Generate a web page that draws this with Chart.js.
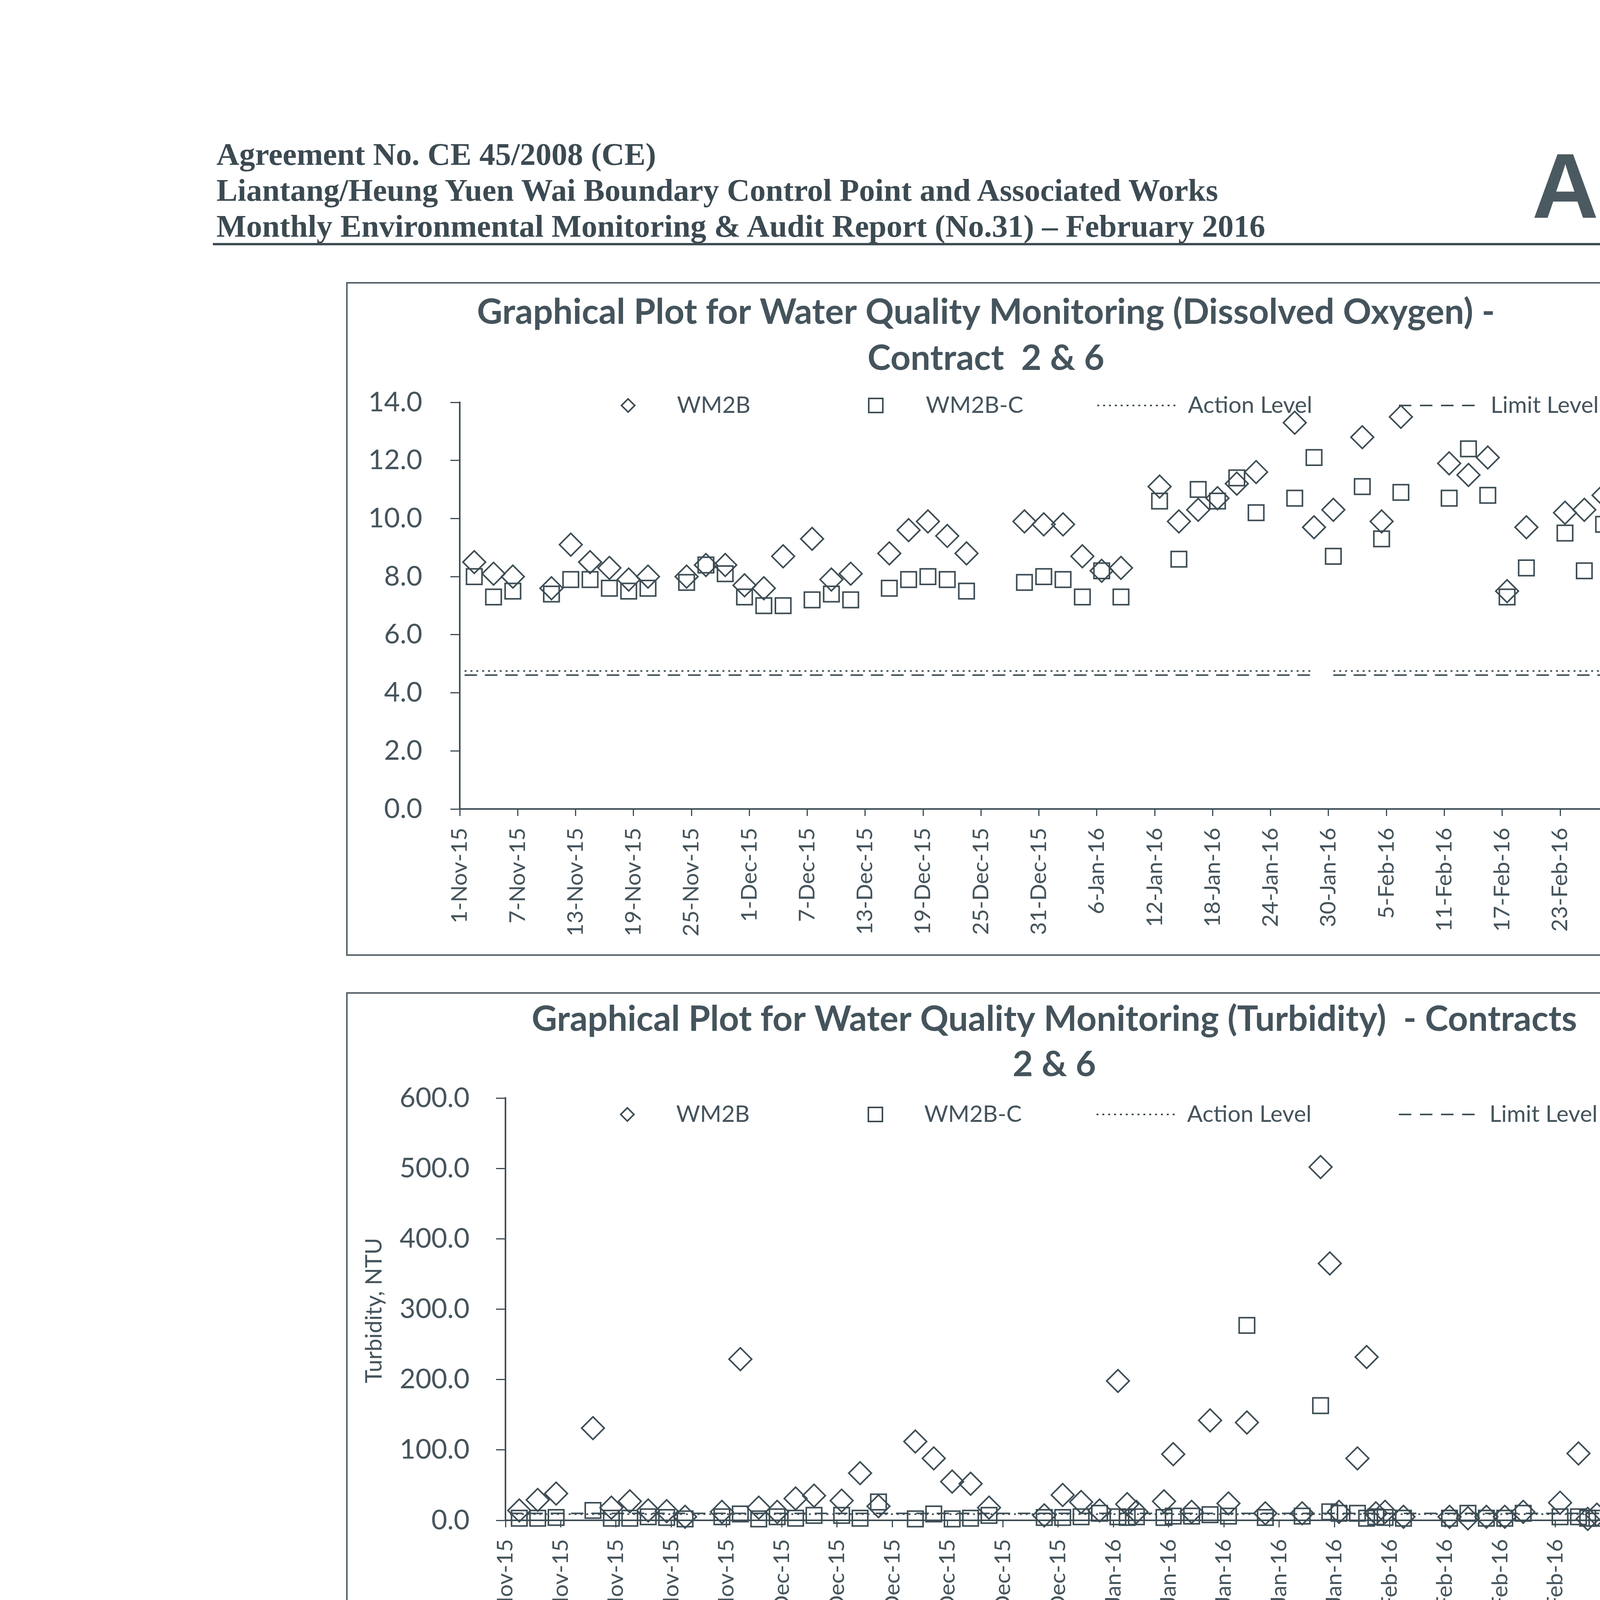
<!DOCTYPE html>
<html>
<head>
<meta charset="utf-8">
<script src="https://cdn.jsdelivr.net/npm/chart.js@4.4.1/dist/chart.umd.min.js"></script>
<style>
  body { margin: 0; width: 4964px; height: 7020px; background: #fff; position: relative; overflow: hidden; }
  .hdr { position: absolute; left: 554px; font-family: "Liberation Serif", "Times New Roman", serif; font-weight: bold;
         font-size: 81px; line-height: 81px; color: #3c4a52; white-space: nowrap; }
  .logo { position: absolute; left: 3922px; top: 357px; font-family: "Liberation Sans", Arial, sans-serif; font-weight: bold;
          font-size: 236px; line-height: 236px; color: #4b5a61; letter-spacing: 3px; white-space: nowrap; }
  .logo .e { color: #aab4b8; }
  .rule { position: absolute; background: #3f4c53; }
  .foot { position: absolute; left: 660px; top: 6716px; font-family: "Liberation Serif", "Times New Roman", serif;
          font-size: 64px; line-height: 64px; color: #3c4a52; white-space: nowrap; }
  canvas { position: absolute; }
  .box { position: absolute; border: 4px solid #56636a; box-sizing: border-box; pointer-events: none; }
</style>
</head>
<body>
<div class="hdr" style="top:355px">Agreement No. CE 45/2008 (CE)</div>
<div class="hdr" style="top:447px">Liantang/Heung Yuen Wai Boundary Control Point and Associated Works</div>
<div class="hdr" style="top:539px">Monthly Environmental Monitoring &amp; Audit Report (No.31) – February 2016</div>
<div class="logo">AU<span class="e">E</span>S</div>
<div class="rule" style="left:545px; top:622px; width:4070px; height:6px"></div>

<canvas id="doChart"></canvas>
<canvas id="tbChart"></canvas>
<canvas id="ssChart"></canvas>

<div class="rule" style="left:652px; top:6687px; width:3960px; height:5px"></div>
<div class="foot">Z:\Jobs\2013\TCS00694\600\EM&amp;A Report\Monthly EM&amp;A Report\31th (Feb 2016)\R0151v2.docx</div>

<script>
// Sampling dates (shared by the three plots)
const sampleDates = [
  '2015-11-02', '2015-11-04', '2015-11-06', '2015-11-10', '2015-11-12', '2015-11-14', '2015-11-16', '2015-11-18', '2015-11-20',
  '2015-11-24', '2015-11-26', '2015-11-28', '2015-11-30', '2015-12-02', '2015-12-04', '2015-12-07', '2015-12-09', '2015-12-11',
  '2015-12-15', '2015-12-17', '2015-12-19', '2015-12-21', '2015-12-23', '2015-12-29', '2015-12-31',
  '2016-01-02', '2016-01-04', '2016-01-06', '2016-01-07', '2016-01-08', '2016-01-11', '2016-01-12', '2016-01-14', '2016-01-16',
  '2016-01-18', '2016-01-20', '2016-01-22', '2016-01-26', '2016-01-28', '2016-01-29', '2016-01-30',
  '2016-02-01', '2016-02-02', '2016-02-03', '2016-02-04', '2016-02-06', '2016-02-11', '2016-02-13', '2016-02-15', '2016-02-17',
  '2016-02-19', '2016-02-23', '2016-02-25', '2016-02-26', '2016-02-27', '2016-02-29'
];

// Dissolved oxygen, mg/L
const doWM2B = [
  8.5, 8.1, 8.0, 7.6, 9.1, 8.5, 8.3, 7.9, 8.0,
  8.0, 8.4, 8.4, 7.7, 7.6, 8.7, 9.3, 7.9, 8.1,
  8.8, 9.6, 9.9, 9.4, 8.8, 9.9, 9.8,
  9.8, 8.7, 8.2, null, 8.3, null, 11.1, 9.9, 10.3,
  10.7, 11.2, 11.6, 13.3, 9.7, null, 10.3,
  null, 12.8, null, 9.9, 13.5, 11.9, 11.5, 12.1, 7.5,
  9.7, 10.2, 10.3, null, 10.8, 9.3
];
const doWM2BC = [
  8.0, 7.3, 7.5, 7.4, 7.9, 7.9, 7.6, 7.5, 7.6,
  7.8, 8.4, 8.1, 7.3, 7.0, 7.0, 7.2, 7.4, 7.2,
  7.6, 7.9, 8.0, 7.9, 7.5, 7.8, 8.0,
  7.9, 7.3, 8.2, null, 7.3, null, 10.6, 8.6, 11.0,
  10.6, 11.4, 10.2, 10.7, 12.1, null, 8.7,
  null, 11.1, null, 9.3, 10.9, 10.7, 12.4, 10.8, 7.3,
  8.3, 9.5, 8.2, null, 9.8, 8.3
];

// Turbidity, NTU
const tbWM2B = [
  14, 29, 38, 131, 18, 27, 14, 13, 5,
  12, 229, 18, 12, 31, 35, 28, 67, 20,
  112, 88, 55, 52, 18, 7, 36,
  26, 14, 198, 23, 12, 27, 94, 12, 142,
  24, 139, 10, 10, 502, 365, 12,
  88, 232, 10, 12, 5, 5, 3, 5, 5,
  12, 25, 95, 2, 8, 47
];
const tbWM2BC = [
  3, 3, 4, 14, 3, 3, 5, 4, 2,
  5, 9, 2, 5, 3, 7, 7, 3, 26,
  2, 9, 2, 3, 7, 4, 4,
  5, 10, 5, 4, 5, 4, 6, 6, 8,
  6, 277, 4, 6, 163, 12, 10,
  10, 3, 5, 4, 3, 3, 10, 3, 3,
  10, 5, 5, 3, 3, 5
];

// Suspended solids, mg/L
const ssWM2B = [
  3, 15, 23, 113, 14, 31, 12, 9, 8,
  13, 75, 39, 12, 67, 40, 28, 80, 12,
  123, 125, 121, 80, 11, 9, 43,
  19, 8, 134, 10, 20, 12, 54, 14, 88,
  26, 77, 3, 8, 288, 374, 8,
  64, 270, 5, 11, 2, 2, 5, 5, 2,
  14, 11, 80, 3, 8, 40
];
const ssWM2BC = [
  6, 4, 3, 8, 3, 10, 3, 2, 2,
  6, 9, 2, 5, 5, 2, 2, 2, 20,
  2, 2, 2, 2, 5, 2, 3,
  2, 8, 5, 4, 3, 3, 5, 5, 3,
  3, 149, 2, 5, 184, 7, 5,
  14, 3, 2, 7, 2, 2, 12, 2, 2,
  37, 5, 2, 2, 2, 3
];

// Action / Limit levels
const doAction = 4.75, doLimit = 4.61;
const tbAction = 8.8, tbLimit = 9.8;
const ssAction = 11.8, ssLimit = 12.6;
const levelFrom = '2015-11-01', levelTo = '2016-02-29';
const doLevelBreak = ['2016-01-28', '2016-01-30']; // DO level lines are not drawn between these dates

// Tick labels
const dateTickLabels = [
  '1-Nov-15', '7-Nov-15', '13-Nov-15', '19-Nov-15', '25-Nov-15', '1-Dec-15', '7-Dec-15', '13-Dec-15', '19-Dec-15',
  '25-Dec-15', '31-Dec-15', '6-Jan-16', '12-Jan-16', '18-Jan-16', '24-Jan-16', '30-Jan-16', '5-Feb-16', '11-Feb-16',
  '17-Feb-16', '23-Feb-16', '29-Feb-16'
];
const doYTicks = [0, 2, 4, 6, 8, 10, 12, 14];
const bigYTicks = [0, 100, 200, 300, 400, 500, 600];
const legendNames = ['WM2B', 'WM2B-C', 'Action Level', 'Limit Level'];

const INK = '#3e4d55';
const TEXT = '#45545c';
const FONT = 'Lato, "Open Sans", sans-serif';
Chart.defaults.font.family = FONT;
Chart.defaults.color = TEXT;

// Helpers
const START = Date.UTC(2015, 10, 1);
function dayOf(iso) {
  const [y, m, d] = iso.split('-').map(Number);
  return (Date.UTC(y, m - 1, d) - START) / 86400000;
}
// the date axis puts each day in the middle of its slot
const xOf = iso => dayOf(iso) + 0.5;

function points(values) {
  const out = [];
  sampleDates.forEach((d, i) => {
    if (values[i] !== null) out.push({ x: xOf(d), y: values[i] });
  });
  return out;
}

function levelLine(v, brk) {
  if (!brk) return [{ x: xOf(levelFrom), y: v }, { x: xOf(levelTo), y: v }];
  return [
    { x: xOf(levelFrom), y: v }, { x: xOf(brk[0]), y: v },
    { x: xOf(brk[0]) + 1, y: null },
    { x: xOf(brk[1]), y: v }, { x: xOf(levelTo), y: v }
  ];
}

function makeDecor(spec) {
  return {
    id: 'decor',
    afterDraw(chart) {
      const ctx = chart.ctx;
      ctx.save();
      ctx.fillStyle = TEXT;
      ctx.textBaseline = 'middle';

      // title
      ctx.font = 'bold 90px ' + FONT;
      ctx.textAlign = 'center';
      spec.title.forEach((t, i) => ctx.fillText(t, spec.titleX, spec.titleY[i]));

      // legend
      const L = spec.legend;
      ctx.strokeStyle = INK;
      ctx.lineWidth = 4;
      ctx.beginPath();
      ctx.moveTo(L.diamond - 17, L.y); ctx.lineTo(L.diamond, L.y - 17);
      ctx.lineTo(L.diamond + 17, L.y); ctx.lineTo(L.diamond, L.y + 17); ctx.closePath();
      ctx.stroke();
      ctx.strokeRect(L.square - 18, L.y - 18, 36, 36);
      ctx.beginPath(); ctx.setLineDash([5, 10]);
      ctx.moveTo(L.action[0], L.y); ctx.lineTo(L.action[1], L.y); ctx.stroke();
      ctx.beginPath(); ctx.setLineDash([32, 22]);
      ctx.moveTo(L.limit[0], L.y); ctx.lineTo(L.limit[1], L.y); ctx.stroke();
      ctx.setLineDash([]);
      ctx.font = '59px ' + FONT;
      ctx.textAlign = 'left';
      L.text.forEach((x, i) => ctx.fillText(legendNames[i], x, L.y));

      // axis name at the end of the date axis
      ctx.font = '74px ' + FONT;
      ctx.fillText('Date', spec.date[0], spec.date[1]);

      // y axis title
      if (spec.yTitle) {
        ctx.translate(spec.yTitle.x, spec.yTitle.y);
        ctx.rotate(-Math.PI / 2);
        ctx.textAlign = 'center';
        ctx.font = '58px ' + FONT;
        ctx.fillText(spec.yTitle.text, 0, 0);
      }
      ctx.restore();
    }
  };
}

function buildChart(id, spec) {
  const el = document.getElementById(id);
  el.width = spec.box.w;
  el.height = spec.box.h;
  el.style.left = spec.box.left + 'px';
  el.style.top = spec.box.top + 'px';

  const frame = document.createElement('div');
  frame.className = 'box';
  Object.assign(frame.style, {
    left: spec.box.left + 'px', top: spec.box.top + 'px',
    width: spec.box.w + 'px', height: spec.box.h + 'px'
  });
  document.body.appendChild(frame);

  const a = spec.area;
  const xH = 330;
  const markerBase = { showLine: false, pointBorderColor: INK, pointBackgroundColor: 'rgba(0,0,0,0)', pointBorderWidth: 4, clip: false };
  const lineBase = { type: 'line', borderColor: INK, borderWidth: 4, pointRadius: 0, fill: false, tension: 0, spanGaps: false, clip: false };

  new Chart(el, {
    type: 'scatter',
    data: {
      datasets: [
        Object.assign({ label: legendNames[0], data: points(spec.s1), pointStyle: 'rectRot', pointRadius: 29 }, markerBase),
        Object.assign({ label: legendNames[1], data: points(spec.s2), pointStyle: 'rect', pointRadius: 28 }, markerBase),
        Object.assign({ label: legendNames[2], data: levelLine(spec.action, spec.brk), borderDash: [5, 10] }, lineBase),
        Object.assign({ label: legendNames[3], data: levelLine(spec.limit, spec.brk), borderDash: [32, 20] }, lineBase)
      ]
    },
    options: {
      responsive: false,
      animation: false,
      devicePixelRatio: 1,
      events: [],
      layout: { padding: { left: 20, top: a.top, right: spec.box.w - a.right, bottom: spec.box.h - a.bottom - xH } },
      plugins: { legend: { display: false }, tooltip: { enabled: false }, title: { display: false } },
      scales: {
        x: {
          type: 'linear', min: 0, max: 121,
          afterBuildTicks: s => { s.ticks = dateTickLabels.map((_, i) => ({ value: i * 6 })); },
          afterFit: s => { s.height = xH; },
          ticks: {
            autoSkip: false, minRotation: 90, maxRotation: 90, padding: 30,
            font: { size: 57 }, color: TEXT,
            callback: v => dateTickLabels[Math.round(v / 6)]
          },
          grid: { drawOnChartArea: false, drawTicks: true, tickLength: 18, color: INK, lineWidth: 3 },
          border: { display: true, color: INK, width: 4 }
        },
        y: {
          type: 'linear', min: 0, max: spec.yTicks[spec.yTicks.length - 1],
          afterBuildTicks: s => { s.ticks = spec.yTicks.map(v => ({ value: v })); },
          afterFit: s => { s.width = a.left - 20; },
          ticks: { padding: spec.yPad, font: { size: 70 }, color: TEXT, callback: v => v.toFixed(1) },
          grid: { drawOnChartArea: false, drawTicks: true, tickLength: 24, color: INK, lineWidth: 3 },
          border: { display: true, color: INK, width: 4 }
        }
      }
    },
    plugins: [makeDecor(spec)]
  });
}

buildChart('doChart', {
  box: { left: 886, top: 722, w: 3478, h: 1725 },
  area: { left: 291, top: 308, right: 3281, bottom: 1349 },
  s1: doWM2B, s2: doWM2BC, action: doAction, limit: doLimit, brk: doLevelBreak,
  yTicks: doYTicks, yPad: 72,
  title: ['Graphical Plot for Water Quality Monitoring (Dissolved Oxygen) -', 'Contract  2 & 6'],
  titleX: 1638, titleY: [78, 196],
  legend: { y: 316, diamond: 722, square: 1356, action: [1923, 2132], limit: [2695, 2892], text: [847, 1484, 2155, 2930] },
  date: [3293, 1330]
});

buildChart('tbChart', {
  box: { left: 886, top: 2540, w: 3478, h: 1698 },
  area: { left: 408, top: 271, right: 3261, bottom: 1352 },
  s1: tbWM2B, s2: tbWM2BC, action: tbAction, limit: tbLimit,
  yTicks: bigYTicks, yPad: 68,
  title: ['Graphical Plot for Water Quality Monitoring (Turbidity)  - Contracts', '2 & 6'],
  titleX: 1813, titleY: [70, 186],
  legend: { y: 313, diamond: 720, square: 1355, action: [1921, 2130], limit: [2695, 2892], text: [845, 1480, 2153, 2927] },
  date: [3293, 1311],
  yTitle: { text: 'Turbidity, NTU', x: 72, y: 815 }
});

buildChart('ssChart', {
  box: { left: 883, top: 4332, w: 3477, h: 1698 },
  area: { left: 388, top: 232, right: 3285, bottom: 1317 },
  s1: ssWM2B, s2: ssWM2BC, action: ssAction, limit: ssLimit,
  yTicks: bigYTicks, yPad: 71,
  title: ['Graphical Plot for Water Quality Monitoring (Suspended Solids) -', 'Contracts 2 & 6'],
  titleX: 1806, titleY: [100, 218],
  legend: { y: 388, diamond: 726, square: 1364, action: [1929, 2138], limit: [2706, 2901], text: [854, 1491, 2164, 2939] },
  date: [3296, 1306],
  yTitle: { text: 'SS, mg/L', x: 52, y: 740 }
});
</script>
</body>
</html>
